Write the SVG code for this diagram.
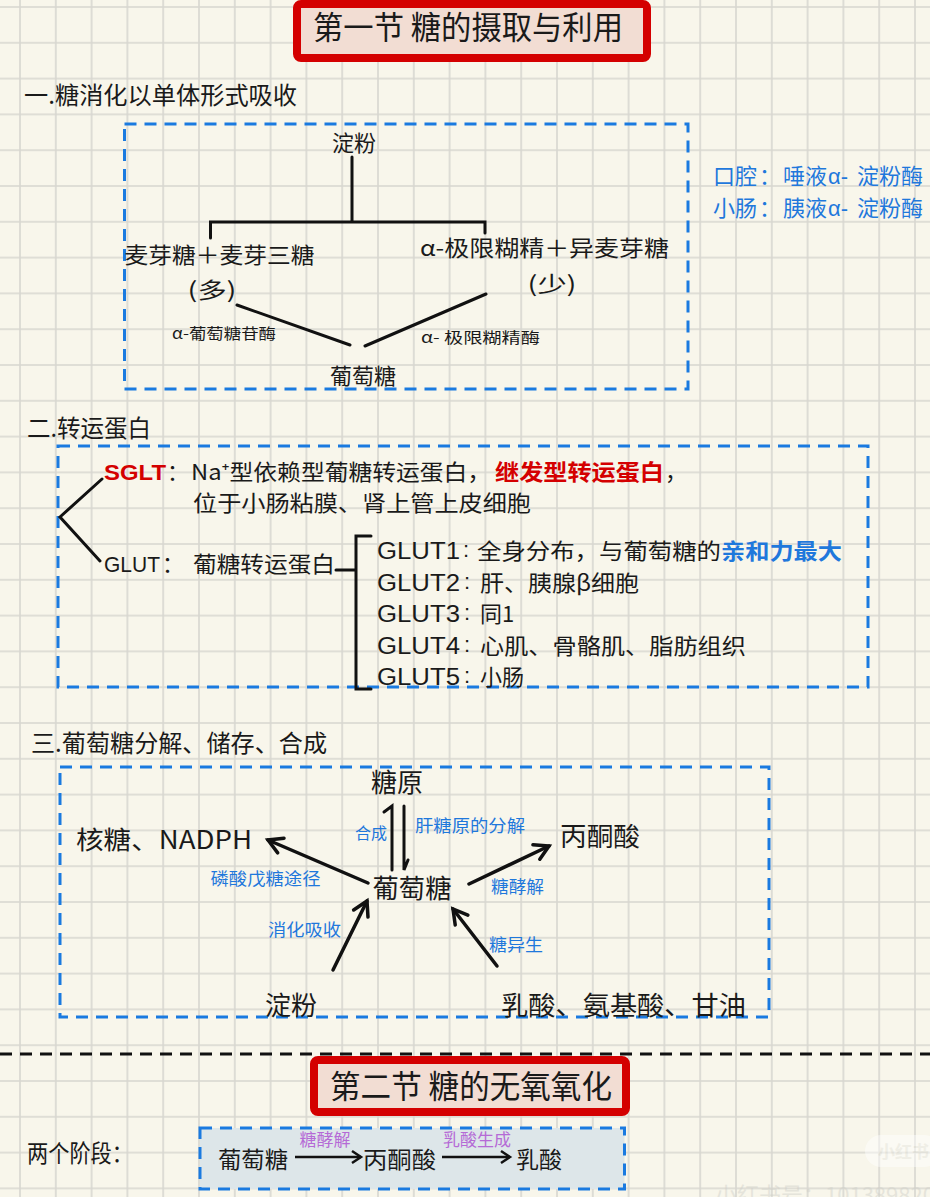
<svg xmlns="http://www.w3.org/2000/svg" width="930" height="1197" viewBox="0 0 930 1197">
<style>
text{font-family:"Noto Sans CJK SC","Noto Sans",sans-serif;fill:#1a1a1a}
.h{font-size:24px}
.t{font-size:22px}
.b{fill:#1f78dc}
.p{fill:#b56ad6}
.sm{font-size:17px}
.lat{font-family:"Liberation Sans","Noto Sans CJK SC",sans-serif}
.box{fill:none;stroke:#1a7ae0;stroke-width:3;stroke-dasharray:12 8}
.ln{fill:none;stroke:#111;stroke-width:3;stroke-linecap:round}
.ar{fill:none;stroke:#111;stroke-width:3.5;stroke-linecap:round;marker-end:url(#ah)}
.ttl{fill:#f2ddd3;stroke:#d40000;stroke-width:8}
</style>
<defs>
<pattern id="grid" patternUnits="userSpaceOnUse" x="19" y="6" width="35.8" height="35.8">
<path d="M0,1 H35.8 M1,0 V35.8" stroke="#d7d6d0" stroke-width="1.6" fill="none"/>
</pattern>
<marker id="ah" markerUnits="userSpaceOnUse" markerWidth="24" markerHeight="24" viewBox="0 0 24 24" refX="20" refY="12" orient="auto">
<path d="M6,4 L20,12 L6,20" fill="none" stroke="#111" stroke-width="3.5" stroke-linecap="round" stroke-linejoin="miter"/>
</marker>
<marker id="ah2" markerUnits="userSpaceOnUse" markerWidth="20" markerHeight="20" viewBox="0 0 20 20" refX="16" refY="10" orient="auto">
<path d="M7,4 L16,10 L7,16" fill="none" stroke="#111" stroke-width="2.5"/>
</marker>
</defs>
<rect width="930" height="1197" fill="#f8f6eb"/>
<rect width="930" height="1197" fill="url(#grid)"/>

<!-- Title 1 -->
<g id="title1">
<rect class="ttl" x="297" y="4" width="350" height="54" rx="4"/>
<text x="468" y="39" font-size="32" text-anchor="middle" textLength="310" lengthAdjust="spacingAndGlyphs">第一节 糖的摄取与利用</text>
</g>

<!-- Section 1 -->
<g id="sec1-header"><text class="h" x="24" y="104" textLength="273" lengthAdjust="spacingAndGlyphs">一.糖消化以单体形式吸收</text></g>
<g id="sec1-box"><rect class="box" x="124.5" y="124" width="563.5" height="265"/></g>
<g id="n-dianfen1"><text class="t" x="354" y="151" text-anchor="middle">淀粉</text></g>
<g id="n-maiya"><text class="t" x="124.5" y="263" textLength="190" lengthAdjust="spacingAndGlyphs">麦芽糖＋麦芽三糖</text>
<text class="t" x="212" y="298" text-anchor="middle" textLength="49" lengthAdjust="spacingAndGlyphs">(多)</text></g>
<g id="n-hujing"><text class="t" x="420" y="256" textLength="249" lengthAdjust="spacingAndGlyphs">α-极限糊精＋异麦芽糖</text>
<text class="t" x="552" y="292" text-anchor="middle" textLength="49" lengthAdjust="spacingAndGlyphs">(少)</text></g>
<g id="n-putaotang1"><text class="t" x="363" y="384" text-anchor="middle" font-size="23">葡萄糖</text></g>
<g id="side-note">
<text class="t b" x="713" y="184">口腔</text><text class="t b" x="759" y="184">：</text><text class="t b" x="783" y="184">唾液</text><text class="t b lat" x="828" y="184">α-</text><text class="t b" x="857" y="184" font-size="23">淀粉酶</text>
<text class="t b" x="713" y="216">小肠</text><text class="t b" x="759" y="216">：</text><text class="t b" x="783" y="216">胰液</text><text class="t b lat" x="828" y="216">α-</text><text class="t b" x="857" y="216" font-size="23">淀粉酶</text>
</g>
<g id="connectors-sec1">
<path class="ln" d="M352,157 V222 M210.5,238 V222 H485 V233"/>
<path class="ln" d="M237,305 L350,345 M486,294 L365,346"/>
<text x="172" y="339" font-size="15" textLength="104" lengthAdjust="spacingAndGlyphs">α-葡萄糖苷酶</text>
<text x="421" y="343" font-size="15" textLength="119" lengthAdjust="spacingAndGlyphs">α- 极限糊精酶</text>
</g>

<!-- Section 2 -->
<g id="sec2-header"><text class="h" x="27" y="437" textLength="124" lengthAdjust="spacingAndGlyphs">二.转运蛋白</text></g>
<g id="sec2-box"><rect class="box" x="58" y="446" width="810" height="241"/></g>
<g id="n-sglt">
<text class="lat" x="104" y="480" font-size="22" font-weight="bold" style="fill:#d40000" textLength="62" lengthAdjust="spacingAndGlyphs">SGLT</text>
<text class="t" x="167" y="480">：</text>
<text class="t" x="191" y="480" textLength="300" lengthAdjust="spacingAndGlyphs">Na⁺型依赖型葡糖转运蛋白，</text>
<text class="t" x="495" y="480" font-weight="bold" style="fill:#d40000" textLength="169" lengthAdjust="spacingAndGlyphs">继发型转运蛋白</text>
<text class="t" x="665" y="480">，</text>
<text class="t" x="193" y="511" textLength="338" lengthAdjust="spacingAndGlyphs">位于小肠粘膜、肾上管上皮细胞</text>
</g>
<g id="n-glut">
<text class="t lat" x="104" y="572" font-size="23" textLength="56" lengthAdjust="spacingAndGlyphs">GLUT</text>
<text class="t" x="162" y="572">：</text>
<text class="t" x="193" y="572" textLength="142" lengthAdjust="spacingAndGlyphs">葡糖转运蛋白</text>
</g>
<g id="n-glut-list">
<text class="lat" x="377" y="559" font-size="23" textLength="83" lengthAdjust="spacingAndGlyphs">GLUT1</text><text class="lat" x="463" y="557" font-size="22">:</text>
<text class="t" x="477" y="559" textLength="244" lengthAdjust="spacingAndGlyphs">全身分布，与葡萄糖的</text>
<text class="t" x="721" y="559" font-weight="bold" style="fill:#1f78dc" textLength="121" lengthAdjust="spacingAndGlyphs">亲和力最大</text>
<text class="lat" x="377" y="591" font-size="23" textLength="83" lengthAdjust="spacingAndGlyphs">GLUT2</text><text class="lat" x="464" y="589" font-size="22">:</text>
<text class="t" x="480" y="591" textLength="159" lengthAdjust="spacingAndGlyphs">肝、胰腺β细胞</text>
<text class="lat" x="377" y="622" font-size="23" textLength="83" lengthAdjust="spacingAndGlyphs">GLUT3</text><text class="lat" x="464" y="620" font-size="22">:</text>
<text class="t" x="480" y="622">同1</text>
<text class="lat" x="377" y="654" font-size="23" textLength="83" lengthAdjust="spacingAndGlyphs">GLUT4</text><text class="lat" x="464" y="652" font-size="22">:</text>
<text class="t" x="480" y="654" textLength="266" lengthAdjust="spacingAndGlyphs">心肌、骨骼肌、脂肪组织</text>
<text class="lat" x="377" y="685" font-size="23" textLength="83" lengthAdjust="spacingAndGlyphs">GLUT5</text><text class="lat" x="464" y="683" font-size="22">:</text>
<text class="t" x="480" y="685">小肠</text>
</g>
<g id="connectors-sec2">
<path class="ln" d="M102,479 L60,517 L100,561"/>
<path class="ln" d="M336,570 H356 M371,536 H356 V689 H371"/>
</g>

<!-- Section 3 -->
<g id="sec3-header"><text class="h" x="31" y="752" textLength="296" lengthAdjust="spacingAndGlyphs">三.葡萄糖分解、储存、合成</text></g>
<g id="sec3-box"><rect class="box" x="60" y="767" width="709" height="250"/></g>
<g id="n-tangyuan"><text x="397" y="792" font-size="26" text-anchor="middle">糖原</text></g>
<g id="n-hetang"><text x="76" y="849" font-size="25" textLength="176" lengthAdjust="spacingAndGlyphs">核糖、NADPH</text></g>
<g id="n-bingtongsuan"><text x="560" y="846" font-size="26" textLength="80" lengthAdjust="spacingAndGlyphs">丙酮酸</text></g>
<g id="n-putaotang3"><text x="412" y="898" font-size="26" text-anchor="middle" textLength="79" lengthAdjust="spacingAndGlyphs">葡萄糖</text></g>
<g id="n-dianfen3"><text x="291" y="1015" font-size="26" text-anchor="middle">淀粉</text></g>
<g id="n-rusuan"><text x="501" y="1015" font-size="26" textLength="245" lengthAdjust="spacingAndGlyphs">乳酸、氨基酸、甘油</text></g>
<g id="connectors-sec3">
<path class="ln" d="M392,870 V806 L384,812"/>
<path class="ln" d="M404,806 V870 L408,860"/>
<path class="ar" d="M368,883 L268,840"/>
<path class="ar" d="M469,884 L549,846"/>
<path class="ar" d="M333,970 L367,901"/>
<path class="ar" d="M497,966 L453,909"/>
<text class="b" x="371" y="839" font-size="16" text-anchor="middle">合成</text>
<text class="b" x="415" y="832" font-size="17" textLength="110" lengthAdjust="spacingAndGlyphs">肝糖原的分解</text>
<text class="b" x="210.5" y="885" font-size="17" textLength="110" lengthAdjust="spacingAndGlyphs">磷酸戊糖途径</text>
<text class="b" x="491" y="893" font-size="17" textLength="53" lengthAdjust="spacingAndGlyphs">糖酵解</text>
<text class="b" x="268" y="936" font-size="17" textLength="73" lengthAdjust="spacingAndGlyphs">消化吸收</text>
<text class="b" x="489" y="951" font-size="17" textLength="54" lengthAdjust="spacingAndGlyphs">糖异生</text>
</g>

<!-- Separator -->
<g id="separator"><path d="M0,1054 H930" stroke="#111" stroke-width="3" stroke-dasharray="12 8"/></g>

<!-- Title 2 -->
<g id="title2">
<rect class="ttl" x="314" y="1060" width="312" height="52" rx="4"/>
<text x="471" y="1098" font-size="32" text-anchor="middle" textLength="282" lengthAdjust="spacingAndGlyphs">第二节 糖的无氧氧化</text>
</g>
<g id="n-stages-label"><text class="h" x="27" y="1162" textLength="106" lengthAdjust="spacingAndGlyphs">两个阶段：</text></g>
<g id="stages-box"><rect x="200" y="1128" width="424.5" height="61" fill="#dde6e9" stroke="#1a7ae0" stroke-width="3" stroke-dasharray="12 8"/></g>
<g id="n-s-putaotang"><text x="218" y="1168" font-size="23" textLength="70" lengthAdjust="spacingAndGlyphs">葡萄糖</text></g>
<g id="n-s-bingtong"><text x="363" y="1168" font-size="23" textLength="73" lengthAdjust="spacingAndGlyphs">丙酮酸</text></g>
<g id="n-s-rusuan"><text x="516" y="1168" font-size="23" textLength="46" lengthAdjust="spacingAndGlyphs">乳酸</text></g>
<g id="connectors-stages">
<path d="M295,1157 H361" stroke="#111" stroke-width="2.5" marker-end="url(#ah2)"/>
<path d="M442,1157 H510" stroke="#111" stroke-width="2.5" marker-end="url(#ah2)"/>
<text class="p" x="325" y="1146" font-size="17" text-anchor="middle">糖酵解</text>
<text class="p" x="477" y="1146" font-size="17" text-anchor="middle">乳酸生成</text>
</g>

<!-- watermark -->
<g id="watermark" opacity="0.45">
<rect x="865" y="1135" width="75" height="32" rx="16" fill="#ffffff"/>
<text x="878" y="1158" font-size="17" style="fill:#e6e6e0" font-weight="bold">小红书</text>
<text x="715" y="1203" font-size="22" style="fill:#cfcfc8">小红书号：1013898209</text>
</g>
</svg>
